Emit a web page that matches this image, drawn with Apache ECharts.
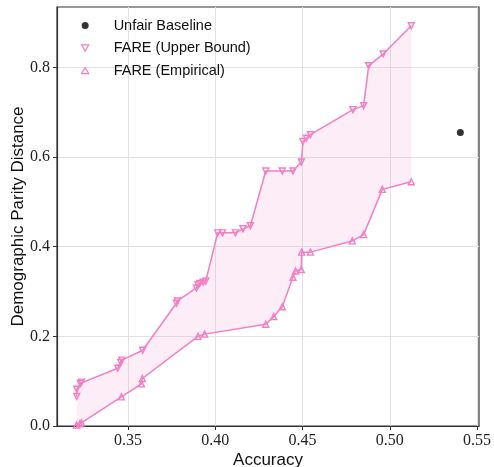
<!DOCTYPE html>
<html>
<head>
<meta charset="utf-8">
<script src="https://cdn.jsdelivr.net/npm/echarts@6/dist/echarts.min.js"></script>
<style>html,body{margin:0;padding:0;background:#fff}#c{width:494px;height:467px}</style>
</head>
<body>
<div id="c"></div>
<script>
const xTicks = [0.35, 0.40, 0.45, 0.50, 0.55];
const yTicks = [0.0, 0.2, 0.4, 0.6, 0.8];

const baselineX = [0.5404];
const baselineY = [0.655];

const upperX = [0.3206,0.3206,0.3227,0.3233,0.3441,0.3458,0.3464,0.3584,0.3777,0.3783,0.3892,0.3901,0.3911,0.3930,0.3945,0.4014,0.4041,0.4115,0.4159,0.4201,0.4289,0.4384,0.4445,0.4493,0.4502,0.4522,0.4545,0.4789,0.4850,0.4879,0.4962,0.5123];
const upperY = [0.066,0.082,0.095,0.098,0.129,0.142,0.147,0.169,0.274,0.279,0.308,0.315,0.318,0.321,0.323,0.431,0.431,0.431,0.440,0.447,0.569,0.569,0.569,0.589,0.635,0.642,0.650,0.706,0.715,0.804,0.830,0.893];

const empX = [0.3205,0.3224,0.3233,0.3462,0.3577,0.3582,0.3901,0.3939,0.4289,0.4335,0.4384,0.4445,0.4460,0.4493,0.4495,0.4545,0.4785,0.4850,0.4957,0.5123];
const empY = [0.002,0.005,0.007,0.065,0.094,0.106,0.200,0.205,0.227,0.244,0.266,0.332,0.346,0.349,0.388,0.388,0.413,0.427,0.528,0.545];

const PINK = '#f47ec3';
const FILL = 'rgba(244,126,195,0.14)';
const zip = (a, b) => a.map((v, i) => [v, b[i]]);

const chart = echarts.init(document.getElementById('c'), null, {renderer: 'canvas'});
const serif = '"Liberation Serif", "DejaVu Serif", serif';
const sans = '"Liberation Sans", Arial, sans-serif';

chart.setOption({
  animation: false,
  backgroundColor: '#fff',
  grid: {left: 57, right: 15, top: 7, bottom: 41, containLabel: false, outerBoundsMode: 'none',
         show: true, borderColor: '#333', borderWidth: 1.2},
  legend: {
    orient: 'vertical', left: 76, top: 13, itemWidth: 7, itemHeight: 7, itemGap: 7.5,
    textStyle: {fontFamily: sans, fontSize: 14.5, color: '#111', lineHeight: 15, padding: [0,0,0,20]},
    data: [
      {name: 'Unfair Baseline', icon: 'circle', itemStyle: {color: '#000', borderWidth: 0}},
      {name: 'FARE (Upper Bound)', icon: 'path://M0,0L10,0L5,8.66Z', itemStyle: {color: 'rgba(0,0,0,0)', borderColor: PINK, borderWidth: 1.3}},
      {name: 'FARE (Empirical)', icon: 'path://M5,0L10,8.66L0,8.66Z', itemStyle: {color: 'rgba(0,0,0,0)', borderColor: PINK, borderWidth: 1.3}}
    ]
  },
  xAxis: {
    type: 'value', min: 0.3093, max: 0.5511,
    name: 'Accuracy', nameLocation: 'middle', nameGap: 26, nameMoveOverlap: false,
    nameTextStyle: {fontFamily: sans, fontSize: 17, color: '#111', verticalAlign: 'top'},
    axisLine: {show: true, onZero: false, lineStyle: {color: '#333', width: 1.2}},
    axisTick: {show: true, length: 4, inside: false, customValues: xTicks, lineStyle: {color: '#333'}},
    axisLabel: {customValues: xTicks, margin: 7, fontFamily: serif, fontSize: 16, color: '#222',
                formatter: v => v.toFixed(2)},
    splitLine: {show: true, lineStyle: {color: '#e2e2e2', width: 1}}
  },
  yAxis: {
    type: 'value', min: 0, max: 0.935,
    name: 'Demographic Parity Distance', nameLocation: 'middle', nameGap: 39, nameRotate: 90, nameMoveOverlap: false,
    nameTextStyle: {fontFamily: sans, fontSize: 17, color: '#111', verticalAlign: 'middle'},
    axisLine: {show: true, lineStyle: {color: '#333', width: 1.2}},
    axisTick: {show: true, length: 4, inside: false, customValues: yTicks, lineStyle: {color: '#333'}},
    axisLabel: {customValues: yTicks, margin: 7, fontFamily: serif, fontSize: 16, color: '#222',
                formatter: v => v.toFixed(1)},
    splitLine: {show: true, lineStyle: {color: '#e2e2e2', width: 1}}
  },
  series: [
    {
      type: 'custom', name: 'fill', silent: true, z: 1,
      data: [[upperX[0], upperY[0]]],
      renderItem: function (params, api) {
        const pts = [];
        for (let i = 0; i < upperX.length; i++) pts.push(api.coord([upperX[i], upperY[i]]));
        for (let i = empX.length - 1; i >= 0; i--) pts.push(api.coord([empX[i], empY[i]]));
        return {type: 'polygon', shape: {points: pts}, style: {fill: FILL, stroke: null}};
      }
    },
    {
      type: 'scatter', name: 'Unfair Baseline', z: 5,
      data: zip(baselineX, baselineY), symbol: 'circle', symbolSize: 7,
      itemStyle: {color: '#000'}
    },
    {
      type: 'line', name: 'FARE (Upper Bound)', z: 4,
      data: zip(upperX, upperY), symbol: 'triangle', symbolRotate: 180, symbolSize: 6,
      showAllSymbol: true,
      lineStyle: {color: PINK, width: 1.5},
      itemStyle: {color: 'rgba(0,0,0,0)', borderColor: PINK, borderWidth: 1.4}
    },
    {
      type: 'line', name: 'FARE (Empirical)', z: 4,
      data: zip(empX, empY), symbol: 'triangle', symbolSize: 6,
      showAllSymbol: true,
      lineStyle: {color: PINK, width: 1.5},
      itemStyle: {color: 'rgba(0,0,0,0)', borderColor: PINK, borderWidth: 1.4}
    }
  ]
});
</script>
</body>
</html>
